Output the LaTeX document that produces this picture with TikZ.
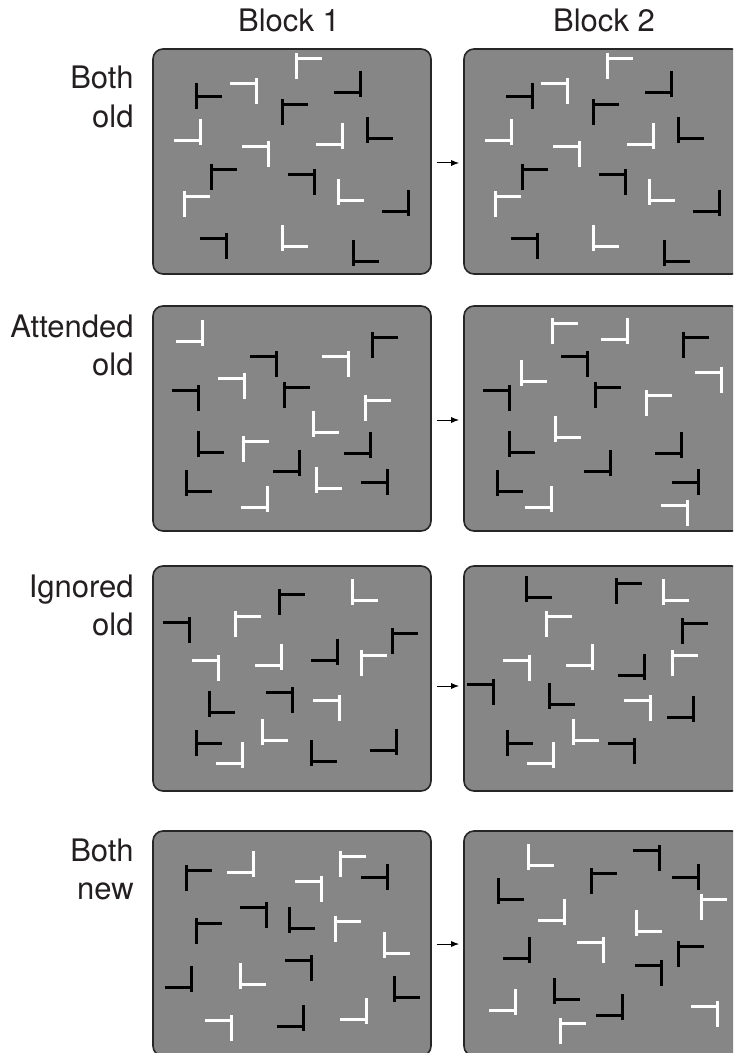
\documentclass[tikz,border=0pt]{standalone}
\usepackage{fontspec}
\setmainfont{TeX Gyre Heros}
\usetikzlibrary{arrows.meta}
\definecolor{panelgray}{RGB}{134,134,134}
\definecolor{inkgray}{RGB}{35,31,32}

% items: x/y/arm/offset/colour, in px from the panel corner
\def\layoutA{144/10/26/-5/white, 104/35/-26/-5/white, 208/44/-26/-21/black,
  130/56/26/-5/black, 48/92/-26/-21/white, 116/98/-26/-5/white,
  190/96/-26/-21/white, 215/90/26/-21/black, 59/121/26/-5/black,
  162/126/-26/-5/black, 32/148/26/-5/white, 186/152/26/-21/white,
  256/163/-26/-21/black, 74/190/-26/-5/black, 130/198/26/-21/white,
  201/213/26/-21/black}
\edef\panelAone{\layoutA, 44/48/26/-13/black}
\edef\panelAtwo{\layoutA, 69/48/-26/-13/black}

\def\blackB{124/51/-26/-5/black, 220/32/26/-5/black, 46/85/-26/-5/black,
  132/82/26/-5/black, 46/147/26/-21/black, 218/148/-26/-21/black,
  147/166/-26/-21/black, 235/177/-26/-13/black, 34/186/26/-21/black}
\edef\panelBone{\blackB, 50/36/-26/-21/white, 196/51/-26/-5/white,
  92/73/-26/-5/white, 213/95/26/-5/white, 161/127/26/-21/white,
  91/136/26/-5/white, 164/183/26/-21/white, 115/202/-26/-21/white}
\edef\panelBtwo{\blackB, 89/18/26/-5/white, 164/34/-26/-21/white,
  58/76/26/-21/white, 258/67/-26/-5/white, 183/90/26/-5/white,
  92/132/26/-21/white, 88/202/-26/-21/white, 224/200/-26/-5/white}

\def\whiteC{200/35/26/-21/white, 83/51/26/-5/white, 66/95/-26/-5/white,
  129/100/-26/-21/white, 209/90/26/-5/white, 187/135/-26/-5/white,
  110/175/26/-21/white, 90/198/-26/-21/white}
\edef\panelCone{\whiteC, 37/57/-26/-5/black, 127/29/26/-5/black,
  240/68/26/-5/black, 185/95/-26/-21/black, 57/147/26/-21/black,
  140/127/-26/-5/black, 44/178/26/-13/black, 159/196/26/-21/black,
  244/185/-26/-21/black}
\edef\panelCtwo{\whiteC, 63/32/26/-21/black, 153/18/26/-5/black,
  219/58/26/-5/black, 181/110/-26/-21/black, 30/119/-26/-5/black,
  86/139/26/-21/black, 230/152/-26/-21/black, 44/178/26/-13/black,
  171/178/-26/-5/black}

\def\panelDone{34/40/26/-5/black, 101/42/-26/-21/white, 188/26/26/-5/white,
  169/51/-26/-5/white, 235/47/-26/-13/black, 114/77/-26/-5/black,
  137/98/26/-21/black, 44/93/26/-5/black, 183/91/26/-5/white,
  232/123/26/-21/white, 39/157/-26/-21/black, 88/154/26/-21/white,
  159/130/-26/-5/black, 242/167/26/-21/black, 79/190/-26/-5/white,
  151/196/-26/-21/black, 214/189/-26/-21/white}
\def\panelDtwo{65/35/26/-21/white, 196/20/-26/-5/black, 128/43/26/-5/black,
  235/47/-26/-13/black, 35/69/26/-21/black, 238/69/26/-5/white,
  101/90/-26/-21/white, 173/101/26/-21/white, 66/128/-26/-21/black,
  140/112/-26/-5/white, 215/116/26/-5/black, 198/135/-26/-5/black,
  91/169/26/-21/black, 52/180/-26/-21/white, 159/185/-26/-21/black,
  97/193/26/-5/white, 254/176/-26/-5/white}

\newcommand{\glyphs}[1]{%
  \foreach \x/\y/\h/\a/\c in #1 {
    \draw[bar,\c] (\x,\y+\a) -- ++(0,26) (\x,\y) -- ++(\h,0);
  }}

\begin{document}
\begin{tikzpicture}[x=0.5pt,y=-0.5pt,every node/.style={font=\fontsize{15.5}{18}\selectfont,text=inkgray}]
  \tikzset{
    panel/.style={draw=black!85,line width=0.8pt,fill=panelgray,rounded corners=5pt,
      minimum width=139pt,minimum height=112.5pt,inner sep=0pt},
    bar/.style={line width=1.4pt},
    flow/.style={-{Latex[length=4pt,width=3pt]},black,line width=0.5pt,
      shorten <=2.5pt,shorten >=2pt},
    rowlab/.style={anchor=base east,inner sep=0pt},
    collab/.style={anchor=base,inner sep=0pt}
  }
  \useasboundingbox (0,0) rectangle (733,1053);
  \clip (0,0) rectangle (733,1053);
  \node[collab] (blk1) at (289,32) {Block 1};
  \node[collab] (blk2) at (604,32) {Block 2};
  \foreach \n/\y/\one/\two in {A/89/Both/old,B/337/Attended/old,C/597/Ignored/old,D/861/Both/new} {
    \node[rowlab] (\n top) at (134,\y) {\one};
    \node[rowlab] (\n bot) at (134,\y+38.5) {\two};
  }
  % displays, block 1 -> block 2
  \foreach \n/\y/\d in {A/161.5/-0.75,B/418.5/-0.75,C/678.5/-3.75,D/943.5/-0.25} {
    \node[panel] (\n1) at (292,\y) {};
    \node[panel] (\n2) at (603,\y) {};
    \draw[flow] ([yshift=\d pt]\n1.east) -- ([yshift=\d pt]\n2.west);
  }
  \begin{scope}[shift={(A1.north west)}] \glyphs\panelAone \end{scope}
  \begin{scope}[shift={(A2.north west)}] \glyphs\panelAtwo \end{scope}
  \begin{scope}[shift={(B1.north west)}] \glyphs\panelBone \end{scope}
  \begin{scope}[shift={(B2.north west)}] \glyphs\panelBtwo \end{scope}
  \begin{scope}[shift={(C1.north west)}] \glyphs\panelCone \end{scope}
  \begin{scope}[shift={(C2.north west)}] \glyphs\panelCtwo \end{scope}
  \begin{scope}[shift={(D1.north west)}] \glyphs\panelDone \end{scope}
  \begin{scope}[shift={(D2.north west)}] \glyphs\panelDtwo \end{scope}
\end{tikzpicture}
\end{document}
